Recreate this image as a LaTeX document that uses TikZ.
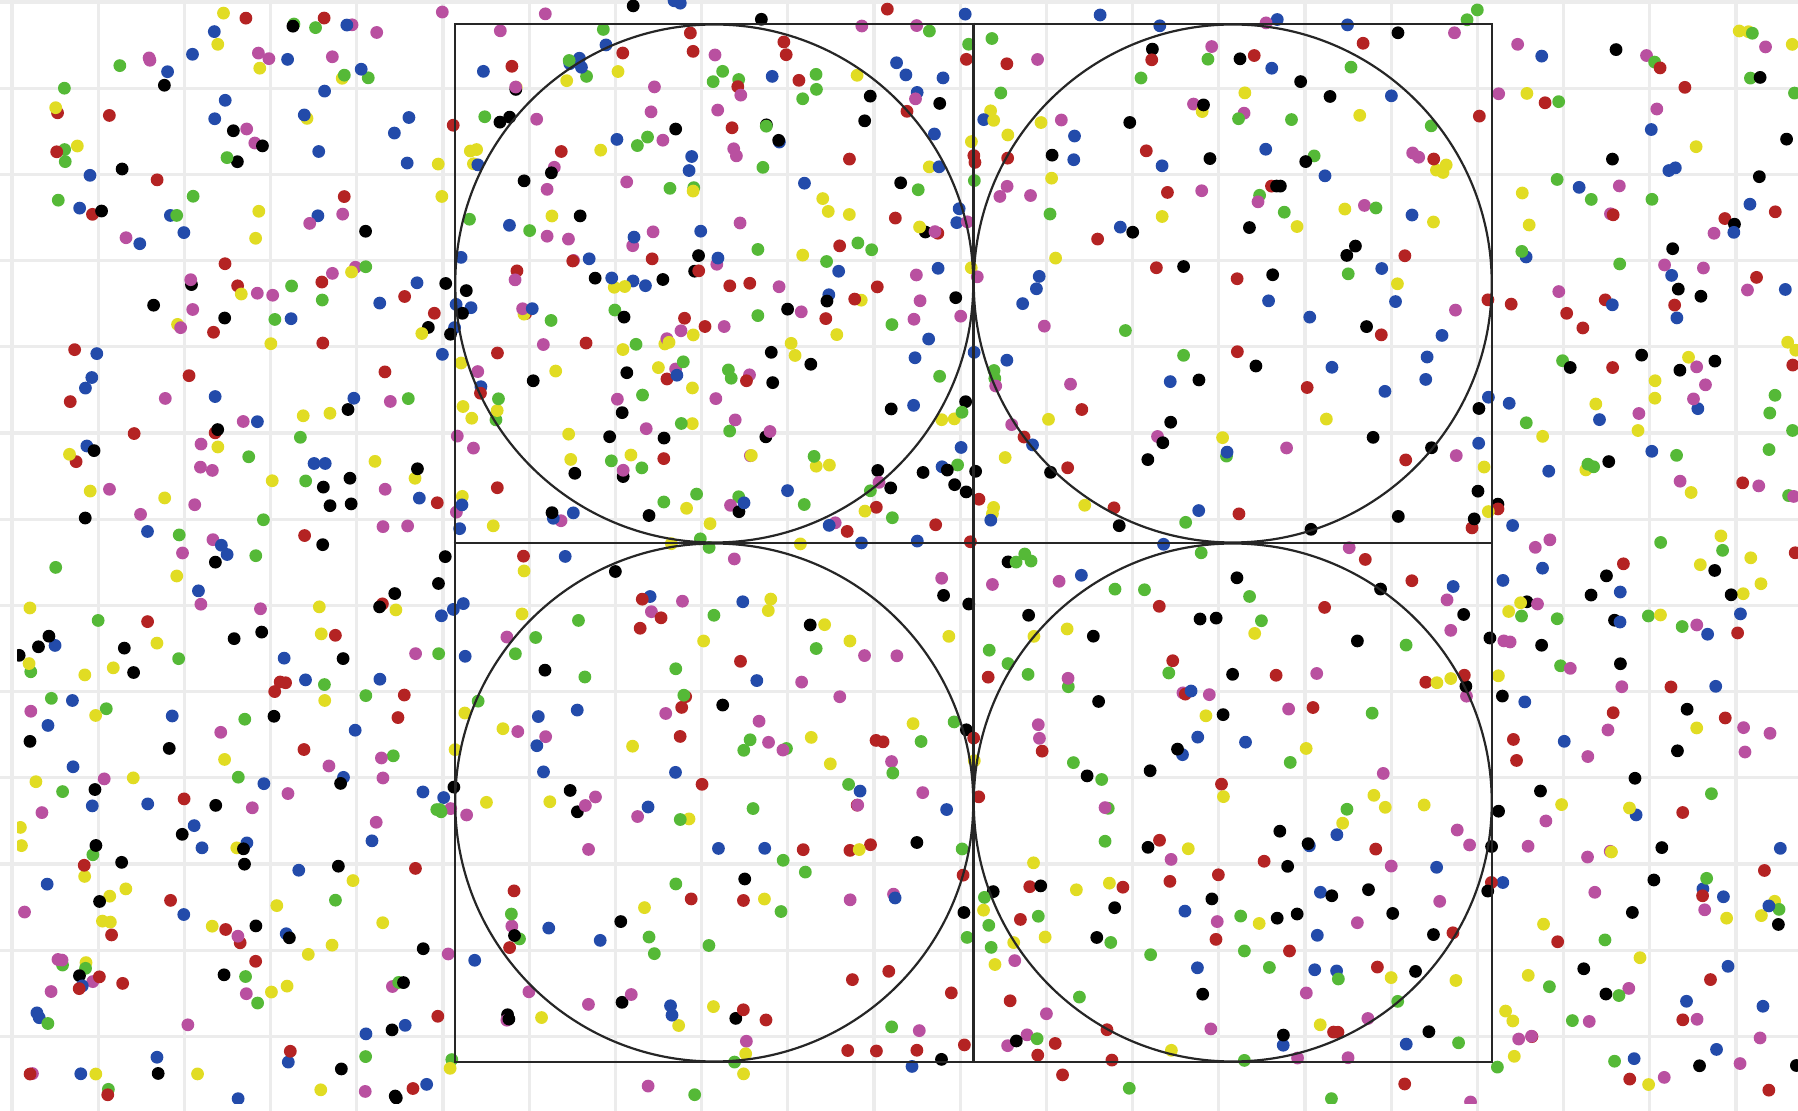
\documentclass[tikz,border=0pt]{standalone}
\definecolor{dred}{RGB}{180,35,35}
\definecolor{dgreen}{RGB}{85,185,55}
\definecolor{dblue}{RGB}{35,75,170}
\definecolor{dyellow}{RGB}{225,220,35}
\definecolor{dpink}{RGB}{185,80,160}
\definecolor{gridgray}{RGB}{236,236,236}
\pgfmathdeclarerandomlist{dotcols}{{dred}{dgreen}{dblue}{dyellow}{dpink}{black}}
\newcommand\dotregion[5]{%
  \foreach \k in {1,...,#1}{%
    \pgfmathsetmacro\px{#2+rnd*#4}%
    \pgfmathsetmacro\py{#3+rnd*#5}%
    \pgfmathrandomitem\dc{dotcols}%
    \fill[\dc] (\px,\py) circle[radius=3.2pt];
  }}
\begin{document}
\begin{tikzpicture}[x=0.5pt,y=-0.5pt,
  gridline/.style={draw=gridgray,line width=1.6pt},
  boxline/.style={draw=black!85,line width=1.4pt},
  ringline/.style={draw=black!85,line width=1.1pt}]
\useasboundingbox (0,0) rectangle (1798,1111);
\fill[white] (0,0) rectangle (1798,1111);
% grid
\foreach \i in {0,...,20}{\draw[gridline] ({12+86.2*\i},0) -- ({12+86.2*\i},1111);}
\foreach \j in {0,...,12}{\draw[gridline] (0,{2+86.2*\j}) -- (1798,{2+86.2*\j});}
% dots
\pgfmathsetseed{271828}
\begin{scope}
\clip (17,0) rectangle (1798,1103);
\dotregion{150}{55}{60}{405}{490}
\dotregion{190}{17}{550}{443}{553}
\dotregion{18}{110}{10}{350}{50}
\dotregion{230}{1496}{30}{302}{1070}
\dotregion{12}{455}{0}{1037}{24}
\dotregion{10}{455}{1062}{1037}{41}
\dotregion{290}{455}{24}{518}{519}
\dotregion{165}{973}{24}{519}{519}
\dotregion{160}{455}{543}{518}{519}
\dotregion{185}{973}{543}{519}{519}
\end{scope}
% square and circles
\node[boxline,inner sep=0pt,minimum width=518.5pt,minimum height=519pt] (sq) at (973.5,543) {};
\draw[boxline] (sq.north) -- (sq.south);
\draw[boxline] (sq.west) -- (sq.east);
\draw[ringline] (714.25,283.5) circle[radius=129.5pt];
\draw[ringline] (1232.75,283.5) circle[radius=129.5pt];
\draw[ringline] (714.25,802.5) circle[radius=129.5pt];
\draw[ringline] (1232.75,802.5) circle[radius=129.5pt];
\end{tikzpicture}
\end{document}
